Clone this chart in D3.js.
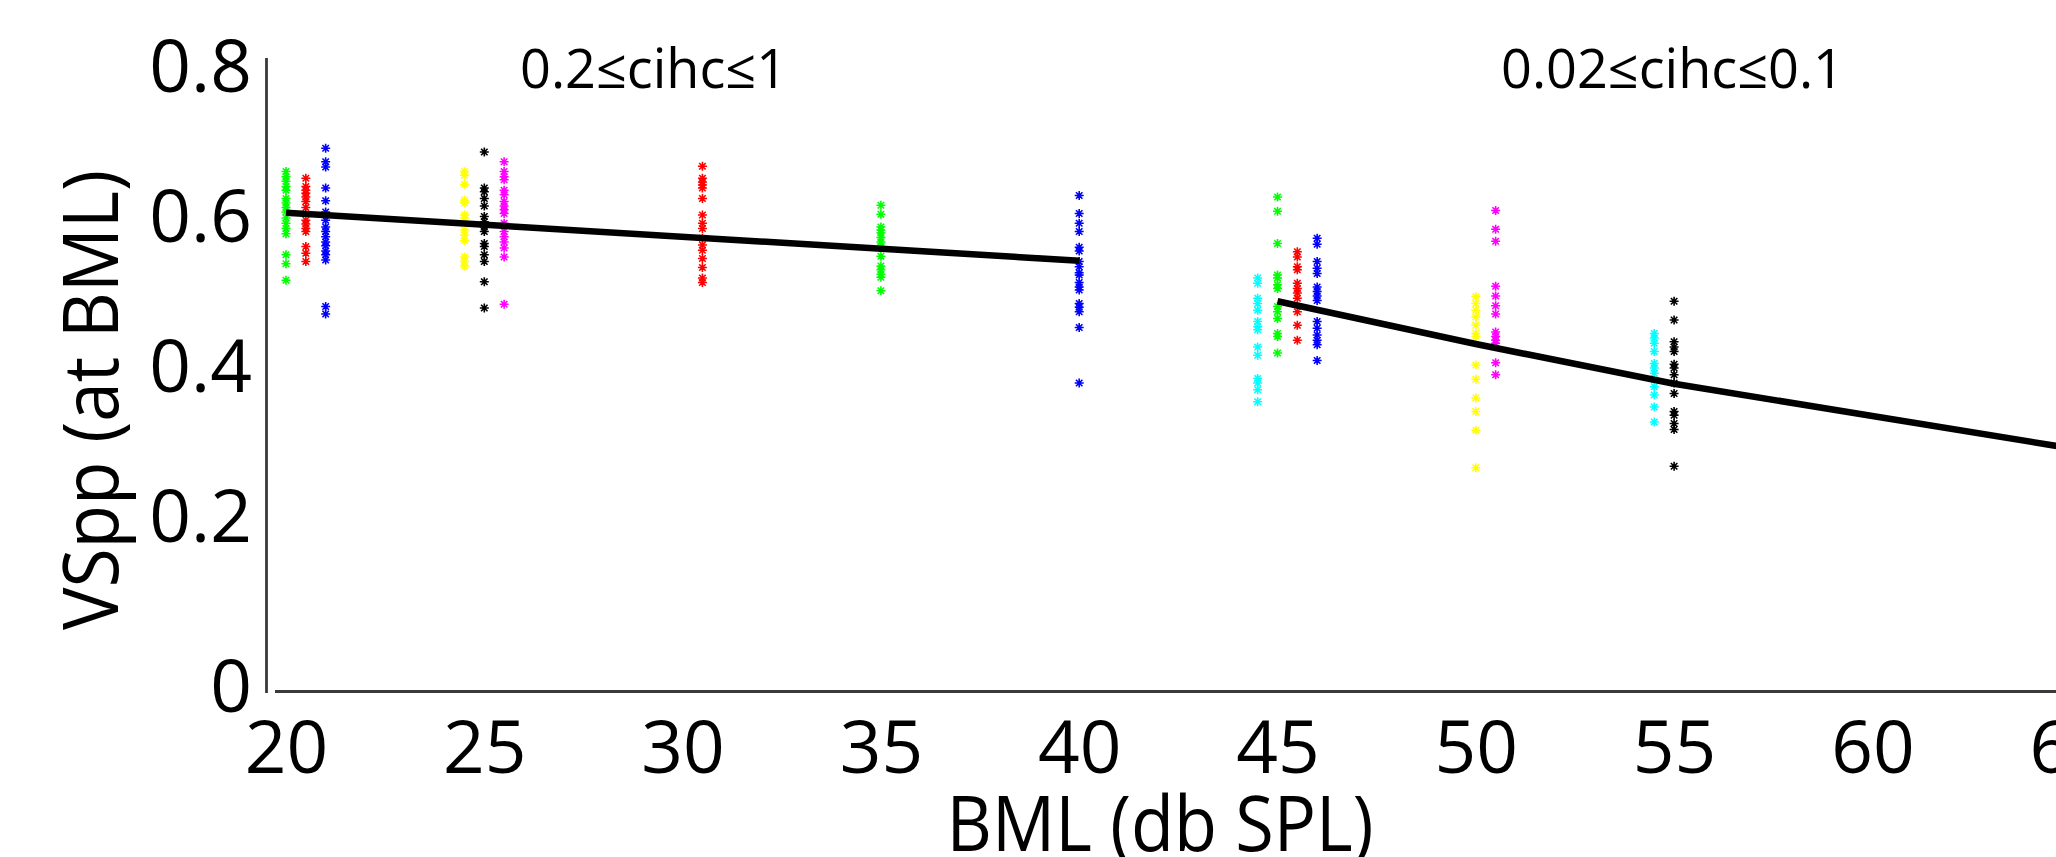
<!DOCTYPE html>
<html>
<head>
<meta charset="utf-8">
<script src="https://cdn.jsdelivr.net/npm/d3@7"></script>
<style>
  html, body { margin: 0; padding: 0; background: #fff; }
  svg { display: block; }
  text { font-family: "Open Sans", "Noto Sans", sans-serif; fill: #000; }
</style>
</head>
<body>
<svg id="chart" width="2056" height="857"></svg>
<script>
// ---------- data ----------
const xTicks = [20, 25, 30, 35, 40, 45, 50, 55, 60, 65];
const yTicks = [0, 0.2, 0.4, 0.6, 0.8];
const xLabel = "BML (db SPL)";
const yLabel = "VSpp (at BML)";
const noteHigh = "0.2≤cihc≤1";
const noteLow = "0.02≤cihc≤0.1";

// scatter groups (x position in dB SPL, VSpp values)
const green20 = [0.658, 0.651, 0.645, 0.638, 0.633, 0.622, 0.616, 0.610, 0.604, 0.596, 0.589, 0.582, 0.575, 0.547, 0.535, 0.513];
const red20_5 = [0.649, 0.638, 0.633, 0.629, 0.624, 0.618, 0.610, 0.593, 0.588, 0.582, 0.578, 0.558, 0.549, 0.538];
const blue21 = [0.689, 0.671, 0.664, 0.636, 0.619, 0.604, 0.593, 0.584, 0.578, 0.571, 0.564, 0.559, 0.552, 0.547, 0.540, 0.478, 0.468];
const yellow24_5 = [0.658, 0.653, 0.641, 0.620, 0.616, 0.600, 0.596, 0.580, 0.573, 0.566, 0.544, 0.538, 0.532];
const black25 = [0.684, 0.636, 0.631, 0.622, 0.612, 0.598, 0.591, 0.584, 0.578, 0.562, 0.558, 0.547, 0.538, 0.511, 0.476];
const magenta25_5 = [0.671, 0.658, 0.651, 0.647, 0.633, 0.627, 0.618, 0.612, 0.607, 0.602, 0.589, 0.578, 0.571, 0.564, 0.556, 0.544, 0.481];
const red30_5 = [0.665, 0.649, 0.644, 0.640, 0.636, 0.622, 0.600, 0.589, 0.582, 0.569, 0.560, 0.553, 0.542, 0.530, 0.516, 0.510];
const green35 = [0.613, 0.601, 0.584, 0.580, 0.576, 0.570, 0.564, 0.558, 0.545, 0.532, 0.527, 0.521, 0.517, 0.499];
const blue40 = [0.626, 0.602, 0.589, 0.578, 0.557, 0.552, 0.538, 0.531, 0.523, 0.520, 0.510, 0.504, 0.500, 0.482, 0.477, 0.471, 0.450, 0.376];
const cyan44_5 = [0.516, 0.509, 0.489, 0.482, 0.473, 0.458, 0.451, 0.447, 0.424, 0.413, 0.382, 0.376, 0.367, 0.351];
const green45 = [0.624, 0.605, 0.562, 0.520, 0.516, 0.507, 0.502, 0.478, 0.471, 0.462, 0.442, 0.438, 0.416];
const red45_5 = [0.551, 0.544, 0.531, 0.527, 0.509, 0.502, 0.496, 0.489, 0.471, 0.453, 0.433];
const blue46 = [0.569, 0.561, 0.538, 0.529, 0.522, 0.504, 0.498, 0.492, 0.486, 0.458, 0.449, 0.440, 0.433, 0.427, 0.406];
const yellow50 = [0.491, 0.482, 0.473, 0.464, 0.453, 0.442, 0.438, 0.400, 0.381, 0.356, 0.338, 0.313, 0.263];
const magenta50_5 = [0.606, 0.581, 0.565, 0.505, 0.492, 0.479, 0.468, 0.444, 0.438, 0.433, 0.429, 0.403, 0.387];
const cyan54_5 = [0.442, 0.436, 0.429, 0.418, 0.402, 0.396, 0.389, 0.380, 0.371, 0.360, 0.344, 0.324];
const black55 = [0.485, 0.460, 0.431, 0.424, 0.418, 0.401, 0.396, 0.387, 0.376, 0.362, 0.338, 0.333, 0.322, 0.314, 0.265];

// fitted lines
const fitHighX = [20, 40];
const fitHighY = [0.603, 0.539];
const fitLowX = [45, 50, 55, 60, 65];
const fitLowY = [0.485, 0.428, 0.375, 0.332, 0.289];

// ---------- styles ----------
const COLORS = { green: "#00ff00", red: "#ff0000", blue: "#0000ff", yellow: "#ffff00",
                 black: "#000000", magenta: "#ff00ff", cyan: "#00ffff" };

const groups = [
  { x: 20,   vals: green20,     c: "green" },
  { x: 20.5, vals: red20_5,     c: "red" },
  { x: 21,   vals: blue21,      c: "blue" },
  { x: 24.5, vals: yellow24_5,  c: "yellow" },
  { x: 25,   vals: black25,     c: "black" },
  { x: 25.5, vals: magenta25_5, c: "magenta" },
  { x: 30.5, vals: red30_5,     c: "red" },
  { x: 35,   vals: green35,     c: "green" },
  { x: 40,   vals: blue40,      c: "blue" },
  { x: 44.5, vals: cyan44_5,    c: "cyan" },
  { x: 45,   vals: green45,     c: "green" },
  { x: 45.5, vals: red45_5,     c: "red" },
  { x: 46,   vals: blue46,      c: "blue" },
  { x: 50,   vals: yellow50,    c: "yellow" },
  { x: 50.5, vals: magenta50_5, c: "magenta" },
  { x: 54.5, vals: cyan54_5,    c: "cyan" },
  { x: 55,   vals: black55,     c: "black" }
];

// ---------- layout ----------
const svg = d3.select("#chart");
const x = d3.scaleLinear().domain([20, 65]).range([286, 286 + 45 * 39.66]);
const y = d3.scaleLinear().domain([0, 0.8]).range([665, 65]);

svg.append("rect").attr("width", 2056).attr("height", 857).attr("fill", "#fff");

// axis lines (offset style)
svg.append("line").attr("x1", 266.5).attr("x2", 266.5).attr("y1", 58).attr("y2", 693)
  .attr("stroke", "#3a3a3a").attr("stroke-width", 2.8);
svg.append("line").attr("x1", 275).attr("x2", 2056).attr("y1", 691.5).attr("y2", 691.5)
  .attr("stroke", "#3a3a3a").attr("stroke-width", 2.8);

// y tick labels via d3 axis
const yAxis = d3.axisLeft(y).tickValues(yTicks).tickSize(0).tickPadding(0)
  .tickFormat(d => d === 0 ? "0" : d3.format(".1f")(d));
const gy = svg.append("g").attr("transform", "translate(252,0)").call(yAxis);
gy.select(".domain").remove();
gy.selectAll("text").attr("font-size", 73).attr("font-family", "'Open Sans', sans-serif")
  .attr("fill", "#000").attr("dy", "0.36em")
  .attr("transform", d => d === 0 ? "translate(0,20)" : null);

// x tick labels via d3 axis
const xAxis = d3.axisBottom(x).tickValues(xTicks).tickSize(0).tickPadding(0).tickFormat(d3.format("d"));
const gx = svg.append("g").attr("transform", "translate(0,773)").call(xAxis);
gx.select(".domain").remove();
gx.selectAll("text").attr("font-size", 73).attr("font-family", "'Open Sans', sans-serif")
  .attr("fill", "#000").attr("dy", 0).attr("y", 0);

// axis titles
svg.append("text").text(yLabel)
  .attr("transform", "translate(118,400) rotate(-90)")
  .attr("text-anchor", "middle").attr("font-size", 76)
  .attr("textLength", 460).attr("lengthAdjust", "spacingAndGlyphs");
svg.append("text").text(xLabel)
  .attr("x", 1160).attr("y", 851).attr("text-anchor", "middle").attr("font-size", 76)
  .attr("textLength", 427).attr("lengthAdjust", "spacingAndGlyphs");

// annotations
svg.append("text").text(noteHigh).attr("x", 520).attr("y", 88).attr("font-size", 54);
svg.append("text").text(noteLow).attr("x", 1501).attr("y", 88).attr("font-size", 54);

// asterisk markers
const r = 4.5, rd = r * 0.72;
const star = `M${-r},0L${r},0M0,${-r}L0,${r}M${-rd},${-rd}L${rd},${rd}M${-rd},${rd}L${rd},${-rd}`;
const pts = groups.flatMap(g => g.vals.map(v => ({ x: g.x, v, c: COLORS[g.c] })));
svg.append("g").selectAll("path").data(pts).join("path")
  .attr("d", star)
  .attr("transform", d => `translate(${x(d.x)},${y(d.v)})`)
  .attr("fill", "none").attr("stroke", d => d.c).attr("stroke-width", 1.6);

// fit lines
const line = d3.line().x(d => x(d[0])).y(d => y(d[1]));
svg.append("path").datum(d3.zip(fitHighX, fitHighY)).attr("d", line)
  .attr("fill", "none").attr("stroke", "#000").attr("stroke-width", 6.5);
svg.append("path").datum(d3.zip(fitLowX, fitLowY)).attr("d", line)
  .attr("fill", "none").attr("stroke", "#000").attr("stroke-width", 6.5)
  .attr("stroke-linejoin", "round");
</script>
</body>
</html>
